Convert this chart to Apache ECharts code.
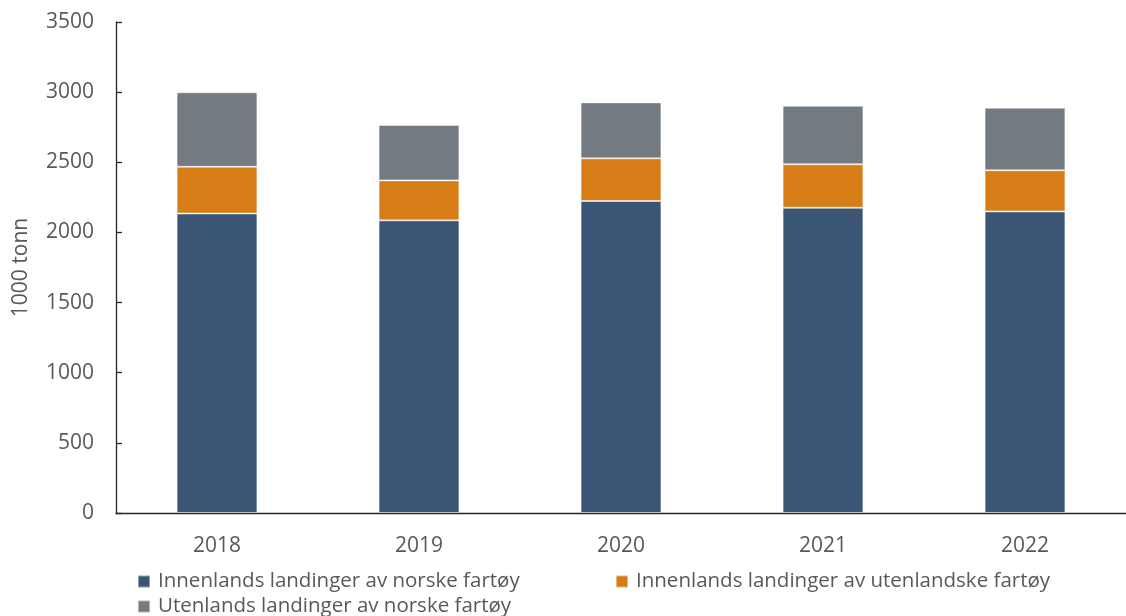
<!DOCTYPE html>
<html><head><meta charset="utf-8">
<script src="https://cdn.jsdelivr.net/npm/echarts@6/dist/echarts.min.js"></script>
<style>html,body{margin:0;padding:0;background:#fff}#c{width:1126px;height:616px}</style>
</head><body><div id="c"></div>
<script>
const categories = ['2018','2019','2020','2021','2022'];
const seriesNames = ['Innenlands landinger av norske fartøy','Innenlands landinger av utenlandske fartøy','Utenlands landinger av norske fartøy'];
const innenlandsNorske = [2135, 2086, 2224, 2176, 2150];
const innenlandsUtenlandske = [333, 285, 304, 310, 293];
const utenlandsNorske = [531, 395, 399, 417, 446];
const yTicks = {min:0, max:3500, interval:500};

const colors = ['#3a5674','#d67d17','#737a82'];
const font = 'Open Sans';
const txt = '#595959';
const chart = echarts.init(document.getElementById('c'));
const mk = (name, data, color) => ({
  name, type:'bar', stack:'total', data, barWidth:'40%',
  itemStyle:{color, borderColor:'rgba(255,255,255,0.45)', borderWidth:1}
});
const legendCommon = {itemWidth:12, itemHeight:12, icon:'rect', itemGap:10,
  textStyle:{fontFamily:font, fontSize:20.5, color:txt, padding:[0,0,0,3]}};
chart.setOption({
  animation:false,
  grid:{left:116, top:22, width:1016, height:491, containLabel:false},
  xAxis:{type:'category', data:categories,
    axisLine:{lineStyle:{color:'#262626', width:1.3}},
    axisTick:{show:false},
    axisLabel:{fontFamily:font, fontSize:21, color:txt, margin:23}},
  yAxis:{type:'value', min:yTicks.min, max:yTicks.max, interval:yTicks.interval,
    name:'1000 tonn', nameLocation:'middle', nameGap:84, nameRotate:90,
    nameTextStyle:{fontFamily:font, fontSize:21, color:txt},
    axisLine:{show:true, lineStyle:{color:'#262626', width:1.3}},
    axisTick:{show:true, inside:true, length:6, lineStyle:{color:'#262626', width:1.3}},
    splitLine:{show:false},
    axisLabel:{fontFamily:font, fontSize:21, color:txt, margin:22,
      formatter:v => String(v)}},
  legend:[
    Object.assign({left:132, top:566, data:[seriesNames[0]]}, legendCommon),
    Object.assign({left:610, top:566, data:[seriesNames[1]]}, legendCommon),
    Object.assign({left:132, top:591, data:[seriesNames[2]]}, legendCommon)
  ],
  series:[
    mk(seriesNames[0], innenlandsNorske, colors[0]),
    mk(seriesNames[1], innenlandsUtenlandske, colors[1]),
    mk(seriesNames[2], utenlandsNorske, colors[2])
  ]
});
</script></body></html>
